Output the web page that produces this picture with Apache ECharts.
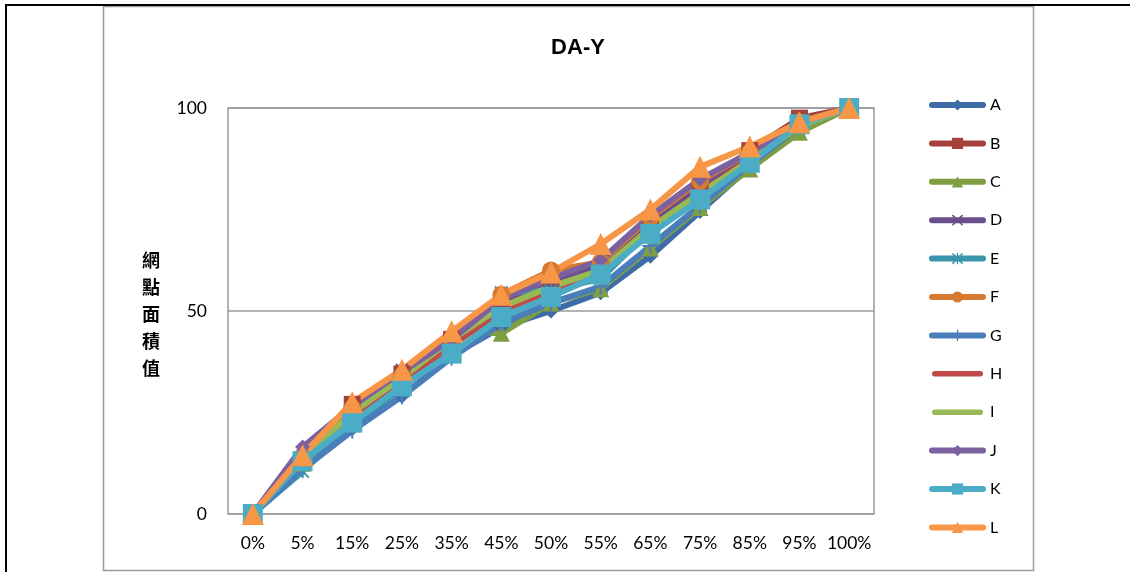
<!DOCTYPE html>
<html>
<head>
<meta charset="utf-8">
<script src="https://cdn.jsdelivr.net/npm/echarts@6/dist/echarts.min.js"></script>
<style>
html,body{margin:0;padding:0;background:#fff;}
#chart{width:1130px;height:572px;}
</style>
</head>
<body>
<div id="chart"></div>
<script>
var categories = ['0%','5%','15%','25%','35%','45%','50%','55%','65%','75%','85%','95%','100%'];
var yTicks = [0, 50, 100];
var seriesNames = ['A','B','C','D','E','F','G','H','I','J','K','L'];
var A = [0, 12, 21, 29, 39, 46, 50, 54.5, 63.5, 74.5, 85.5, 95, 100];
var B = [0, 13, 27, 34.5, 43, 50, 56, 60, 71, 80, 89.5, 97.5, 100];
var C = [0, 12.5, 24, 33, 45, 44.5, 52, 55.5, 65.5, 75.5, 85, 94, 100];
var D = [0, 13, 25, 35.5, 42, 52, 57, 61, 72, 81, 88, 96, 100];
var E = [0, 10.5, 22, 31, 41, 54.5, 55, 58, 70, 78, 87, 96, 100];
var F = [0, 14, 26, 34, 43, 54, 60, 62, 73, 82, 89, 96.5, 100];
var G = [0, 11, 20.5, 29, 38.5, 47, 52, 56, 66, 76, 86, 95.5, 100];
var H = [0, 13, 24, 32.5, 41.5, 50, 55, 59, 70, 79, 87.5, 96, 100];
var I = [0, 13.5, 25, 33.5, 43, 51, 56, 60, 70.5, 79, 87, 95.5, 100];
var J = [0, 16.5, 26.5, 35, 43, 53, 58, 62.5, 73.5, 82.5, 89, 96.5, 100];
var K = [0, 13, 22.5, 31.5, 39.5, 48.5, 53.5, 59, 69, 77.5, 86.5, 96, 100];
var L = [0, 14.5, 27.5, 35.5, 45, 54, 59.5, 66.5, 75, 85.5, 90.5, 96.5, 100];
var seriesValues = [A,B,C,D,E,F,G,H,I,J,K,L];

var colors = ['#3E6CA7','#A6403D','#7E9E43','#6A4F8D','#3A94AC','#D57A30',
              '#4A7EBB','#BE4B48','#98B954','#7D60A0','#4BACC6','#F79646'];
var xPath = 'path://M1,0 L5,4 L9,0 L10,1 L6,5 L10,9 L9,10 L5,6 L1,10 L0,9 L4,5 L0,1 Z';
var starPath = 'path://M1,0 L5,4 L9,0 L10,1 L6,5 L10,9 L9,10 L5,6 L1,10 L0,9 L4,5 L0,1 Z M4.4,0 H5.6 V10 H4.4 Z';
var plusPath = 'path://M4.4,0 H5.6 V4.4 H10 V5.6 H5.6 V10 H4.4 V5.6 H0 V4.4 H4.4 Z';
var barPath = 'path://M0,0 h0.02 v0.02 h-0.02 Z M3,4 H54 A3,3 0 0 1 54,10 H3 A3,3 0 0 1 3,4 Z M56.98,13.98 h0.02 v0.02 h-0.02 Z';
var symbols = ['diamond','rect','triangle',xPath,starPath,'circle',plusPath,'none','none','diamond','rect','triangle'];
var symbolSizes = [15,17,17,13,14,18,16,0,0,15,20,22];

var font = 'Lato, "Noto Sans", "Liberation Sans", sans-serif';

var series = seriesNames.map(function(n,i){
  return {
    name: n,
    type: 'line',
    data: seriesValues[i],
    symbol: symbols[i],
    symbolSize: symbolSizes[i],
    showSymbol: symbols[i] !== 'none',
    lineStyle: {width: 6, color: colors[i], cap: 'round', join: 'round'},
    itemStyle: {color: colors[i], borderWidth: 0},
    emphasis: {disabled: true},
    animation: false
  };
});

var legendData = seriesNames.map(function(n,i){
  var d = {name: n};
  if (symbols[i] === 'none') d.icon = barPath;
  return d;
});

var chart = echarts.init(document.getElementById('chart'), null, {renderer:'canvas'});
chart.setOption({
  animation: false,
  color: colors,
  title: {
    text: 'DA-Y',
    left: 573, top: 32, textAlign: 'center',
    textStyle: {fontFamily: '"Liberation Sans", Arial, sans-serif', fontSize: 22, fontWeight: 'bold', color: '#000'}
  },
  grid: {left: 228, right: 256, top: 108, bottom: 58, show: true, borderColor: '#9a9a9a', borderWidth: 1.5, backgroundColor: 'transparent'},
  legend: {
    orient: 'vertical',
    left: 924, top: 92,
    itemWidth: 51, itemHeight: 14, itemGap: 22.4,
    lineStyle: {width: 6, cap: 'round'},
    textStyle: {fontFamily: font, fontSize: 16, color: '#000', padding: [0,0,0,2]},
    data: legendData
  },
  xAxis: {
    type: 'category',
    data: categories,
    boundaryGap: true,
    axisLine: {show: false},
    axisTick: {show: false},
    axisLabel: {fontFamily: font, fontSize: 17.5, color: '#000', margin: 20, interval: 0}
  },
  yAxis: {
    type: 'value',
    min: 0, max: 100, interval: 50,
    axisLine: {show: false},
    axisTick: {show: false},
    splitLine: {lineStyle: {color: '#9a9a9a', width: 1.5}},
    axisLabel: {fontFamily: font, fontSize: 17.5, color: '#000', margin: 21,
      formatter: function(v){ return yTicks.indexOf(v) >= 0 ? String(v) : ''; }}
  },
  graphic: [
    {type: 'rect', shape: {x: 103.5, y: 6.5, width: 930, height: 564}, style: {fill: 'none', stroke: '#9a9a9a', lineWidth: 1.5}, z: -1},
    {type: 'line', shape: {x1: 5, y1: 5, x2: 1130, y2: 5}, style: {stroke: '#000', lineWidth: 2}},
    {type: 'line', shape: {x1: 6, y1: 4, x2: 6, y2: 572}, style: {stroke: '#000', lineWidth: 2}},
    {type: 'text', left: 142, top: 247, style: {text: '網\n點\n面\n積\n值', fontFamily: '"Noto Sans CJK TC", sans-serif', fontSize: 18, fontWeight: 'bold', fill: '#000', lineHeight: 27}}
  ],
  series: series
});
</script>
</body>
</html>
